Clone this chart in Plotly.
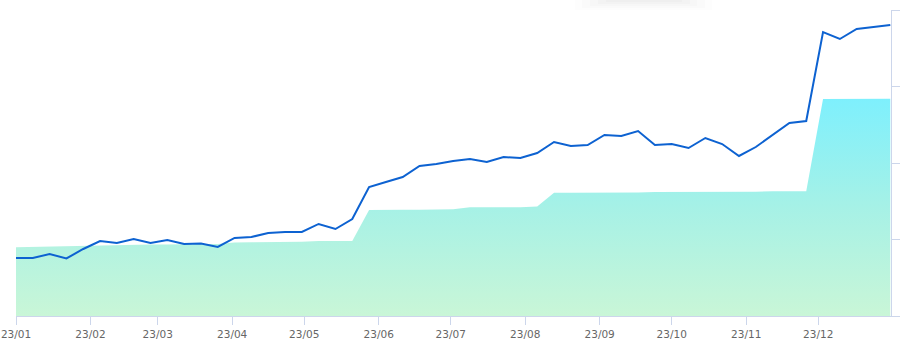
import plotly.graph_objects as go
import pandas as pd

# Weekly dates through 2023
dates = pd.date_range("2023-01-01", periods=53, freq="7D")

line_values = [
    75.8, 75.8, 81.0, 75.2, 87.6, 98.0, 95.4, 100.7, 95.4, 99.3,
    94.1, 94.8, 90.2, 102.0, 103.3, 108.5, 109.8, 109.8, 120.3, 113.7,
    126.8, 168.6, 175.2, 181.7, 196.1, 198.7, 202.6, 205.2, 201.3, 207.8,
    206.5, 213.0, 227.5, 222.2, 223.5, 236.6, 235.3, 241.8, 223.5, 224.8,
    219.6, 232.7, 224.8, 209.2, 220.9, 236.6, 252.3, 254.9, 371.2, 362.1,
    375.2, 377.8, 380.4,
]

area_values = [
    90.0, 90.5, 91.0, 91.5, 92.0, 92.5, 93.0, 93.0, 93.5, 93.5,
    94.0, 94.0, 94.0, 96.0, 96.5, 96.5, 96.5, 97.0, 98.0, 98.0,
    98.0, 138.5, 139.0, 139.0, 139.0, 139.5, 139.5, 142.0, 142.0, 142.0,
    142.0, 143.0, 161.0, 161.0, 161.0, 161.5, 161.5, 161.5, 162.0, 162.0,
    162.0, 162.0, 162.5, 162.5, 162.5, 163.0, 163.0, 163.0, 283.5, 283.5,
    284.0, 284.0, 284.0,
]

tick_dates = pd.date_range("2023-01-01", periods=12, freq="MS")

AXIS = "#ccd6eb"
LEFT = 16
W = 900.0 - LEFT
H = 306.0

fig = go.Figure()
fig.add_trace(go.Scatter(
    x=dates, y=area_values, mode="lines", fill="tozeroy",
    line=dict(width=0, color="rgba(0,0,0,0)"),
    fillgradient=dict(type="vertical", start=0, stop=284,
                      colorscale=[[0, "#c9f6d7"], [0.5, "#a6f1e6"], [1, "#7ef0fd"]]),
    hoverinfo="skip", showlegend=False,
))
fig.add_trace(go.Scatter(
    x=dates, y=line_values, mode="lines",
    line=dict(width=2, color="#0d62d1"),
    hoverinfo="skip", showlegend=False,
))

# faint tooltip shadow at the top
shapes = []
def px_x(p):
    return (p - LEFT) / W
def px_y(p):
    return 1 + (10 - p) / H
for (x0, x1, y1, a) in [
        (575, 712, 10, 0.008), (582, 705, 8, 0.010), (590, 697, 6, 0.012),
        (598, 690, 4, 0.014), (606, 682, 2, 0.016)]:
    shapes.append(dict(type="rect", xref="paper", yref="paper",
                       x0=px_x(x0), x1=px_x(x1), y0=px_y(y1), y1=px_y(0),
                       fillcolor=f"rgba(0,0,0,{a})", line=dict(width=0),
                       layer="above"))

fig.update_layout(
    width=900, height=343,
    margin=dict(l=LEFT, r=0, t=10, b=27),
    paper_bgcolor="white", plot_bgcolor="white",
    shapes=shapes,
    xaxis=dict(
        type="date",
        range=["2023-01-01", "2024-01-04 01:00"],
        tickvals=tick_dates, tickformat="%y/%m",
        ticks="outside", ticklen=8, tickcolor=AXIS, tickwidth=1,
        showline=True, linecolor=AXIS, linewidth=1,
        showgrid=False, zeroline=False,
        tickfont=dict(family="DejaVu Sans", size=10.5, color="#666666"),
    ),
    yaxis=dict(
        range=[0, 400], tickvals=[0, 100, 200, 300, 400],
        side="right", anchor="free", position=(890.5 - LEFT) / W,
        showticklabels=False,
        ticks="outside", ticklen=9, tickcolor=AXIS, tickwidth=1,
        showline=True, linecolor=AXIS, linewidth=1,
        showgrid=False, zeroline=False,
    ),
)

fig.write_html("out.html")
